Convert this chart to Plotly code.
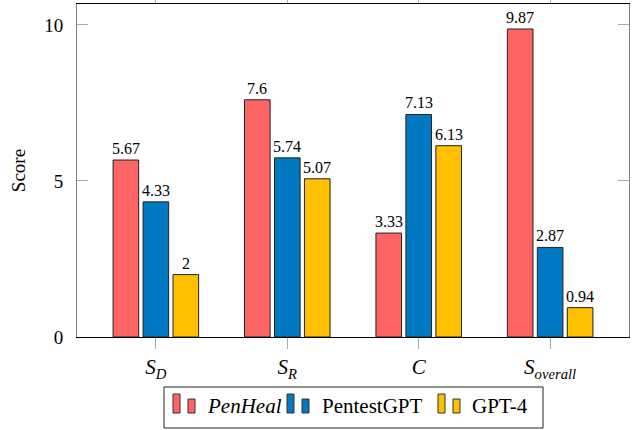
import plotly.graph_objects as go

categories = ["<i>S</i><sub><i>D</i></sub>", "<i>S</i><sub><i>R</i></sub>", "<i>C</i>",
              "<i>S</i><sub><i>overall</i></sub>"]
penheal = [5.67, 7.6, 3.33, 9.87]
pentestgpt = [4.33, 5.74, 7.13, 2.87]
gpt4 = [2, 5.07, 6.13, 0.94]
series_names = ["<i>PenHeal</i>", "PentestGPT", "GPT-4"]
colors = ["#FF6464", "#0078C2", "#FFC000"]

FONT = "Liberation Serif, DejaVu Serif, serif"
W, H = 634, 430
L, R, T, B = 77, 629, 4, 337

fig = go.Figure()
annotations = []
shifts = [-30, 0, 30]
for name, vals, col, sh in zip(series_names, [penheal, pentestgpt, gpt4], colors, shifts):
    fig.add_trace(go.Bar(
        x=categories, y=vals, name=name,
        marker=dict(color=col, line=dict(color="#222222", width=1)),
        showlegend=False, hoverinfo="skip",
    ))
    for c, v in zip(categories, vals):
        annotations.append(dict(x=c, y=v, xref="x", yref="y", text=f"{v:g}", showarrow=False,
                                xanchor="center", yanchor="bottom", xshift=sh, yshift=1,
                                font=dict(family=FONT, size=16, color="black")))

def px2paper(x, y):
    return (x - L) / (R - L), (B - y) / (B - T)

shapes = []
# legend box
x0, y0 = px2paper(164, 387)
x1, y1 = px2paper(543, 428)
shapes.append(dict(type="rect", xref="paper", yref="paper", x0=x0, y0=y1, x1=x1, y1=y0,
                   line=dict(color="#222222", width=1), fillcolor="white"))
legend_items = [(173, 205), (287, 320), (438, 470)]
for (ix, tx), name, col in zip(legend_items, series_names, colors):
    for dx, top in [(0, 394), (15, 399)]:
        a0, b0 = px2paper(ix + dx, 413)
        a1, b1 = px2paper(ix + dx + 7, top)
        shapes.append(dict(type="rect", xref="paper", yref="paper", x0=a0, y0=b0, x1=a1, y1=b1,
                           line=dict(color="#333333", width=1), fillcolor=col))
    ax, ay = px2paper(tx, 406)
    annotations.append(dict(xref="paper", yref="paper", x=ax, y=ay, text=name, showarrow=False,
                            xanchor="left", yanchor="middle",
                            font=dict(family=FONT, size=21, color="black")))

fig.update_layout(
    width=W, height=H,
    margin=dict(l=L, r=W - R, t=T, b=H - B, autoexpand=False),
    paper_bgcolor="white", plot_bgcolor="white",
    barmode="group", bargap=0.316, bargroupgap=0.145,
    font=dict(family=FONT, color="black"),
    shapes=shapes, annotations=annotations,
    showlegend=False,
)
fig.update_xaxes(
    range=[-0.6, 3.6], showline=True, linecolor="black", linewidth=1, mirror="ticks",
    ticks="outside", ticklen=11, tickcolor="#aaaaaa", tickwidth=1, automargin=False,
    tickfont=dict(family=FONT, size=21, color="black"), showgrid=False,
)
fig.update_yaxes(
    range=[0, 10.67], tickvals=[0, 5, 10], showline=True, linecolor="#808080", linewidth=1,
    mirror="ticks", ticks="inside", ticklen=11, tickcolor="#aaaaaa", tickwidth=1,
    tickfont=dict(family=FONT, size=19, color="black"), showgrid=False, zeroline=False,
    title=dict(text="Score", font=dict(family=FONT, size=19, color="black"), standoff=13),
    ticklabelstandoff=9, automargin=False,
)
fig.write_html("out.html", config={"displayModeBar": False},
               post_script="document.body.style.margin='0';document.body.style.overflow='hidden';")
